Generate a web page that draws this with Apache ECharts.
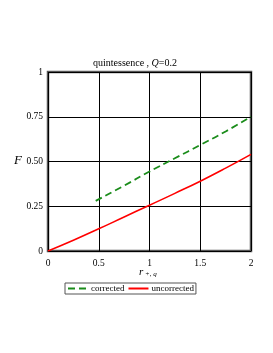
<!DOCTYPE html>
<html><head><meta charset="utf-8">
<script src="https://cdn.jsdelivr.net/npm/echarts@6/dist/echarts.min.js"></script>
<style>html,body{margin:0;padding:0;background:#fff}#c{width:273px;height:353px}</style>
</head><body><div id="c"></div>
<script>
var xTicks = [0, 0.5, 1, 1.5, 2];
var yTicks = [0, 0.25, 0.5, 0.75, 1];
var uncorrectedX = [0, 0.25, 0.5, 0.75, 1, 1.25, 1.5, 1.75, 2];
var uncorrectedF = [0, 0.06, 0.124, 0.19, 0.256, 0.322, 0.39, 0.463, 0.54];
var correctedX = [0.47, 0.75, 1, 1.25, 1.5, 1.75, 2];
var correctedF = [0.28, 0.365, 0.444, 0.518, 0.592, 0.668, 0.75];

function pairs(xs, ys){ return xs.map(function(x,i){return [x, ys[i]];}); }
var serif = '"Liberation Serif", "DejaVu Serif", serif';
var chart = echarts.init(document.getElementById('c'));
chart.setOption({
  animation: false,
  textStyle: {fontFamily: serif},
  title: {
    text: '{n|quintessence , }{i|Q}{n|=0.2}',
    left: 130, top: 53, textAlign: 'center',
    textStyle: {fontWeight: 'normal', rich: {n: {fontFamily: serif, fontSize: 10, fontWeight: 'normal', color: '#000'}, i: {fontFamily: serif, fontSize: 10, fontWeight: 'normal', fontStyle: 'italic', color: '#000'}}}
  },
  grid: {left: 48, right: 22, top: 72, bottom: 102, show: true, borderColor: '#555', borderWidth: 2.5, backgroundColor: 'transparent'},
  xAxis: {
    type: 'value', min: 0, max: 2, interval: 0.5,
    axisLine: {show: false}, axisTick: {show: false},
    splitLine: {show: true, lineStyle: {color: '#000', width: 1}},
    axisLabel: {color: '#000', fontFamily: serif, fontSize: 9.5, margin: 7, formatter: function(v){return String(v);}}
  },
  yAxis: {
    type: 'value', min: 0, max: 1, interval: 0.25,
    axisLine: {show: false}, axisTick: {show: false},
    splitLine: {show: true, lineStyle: {color: '#000', width: 1}},
    axisLabel: {color: '#000', fontFamily: serif, fontSize: 9.5, margin: 5, formatter: function(v){return v===0?'0':v===1?'1':v.toFixed(2);}}
  },
  legend: {
    left: 65, top: 283, itemWidth: 20, itemHeight: 10, itemGap: 3,
    padding: [1, 2, 1, 2], borderColor: '#555', borderWidth: 1,
    itemStyle: {opacity: 0},
    textStyle: {fontFamily: serif, fontSize: 9, color: '#000', padding: [0,0,0,-2]},
    data: ['corrected', 'uncorrected']
  },
  graphic: [
    {type: 'text', left: 14, top: 154, style: {text: 'F', font: 'italic 13px ' + serif, fill: '#000'}},
    {type: 'text', left: 139, top: 267, style: {text: '{r|r}{s| +, q}', rich: {r: {font: 'italic 11px ' + serif, fill: '#000'}, s: {font: 'italic 7px ' + serif, fill: '#000', padding: [4,0,0,0]}}}}
  ],
  series: [
    {name: 'corrected', type: 'line', data: pairs(correctedX, correctedF), symbol: 'none', smooth: true,
     lineStyle: {color: '#1a8c1a', width: 1.8, type: [7, 4]}, itemStyle: {color: '#1a8c1a'}},
    {name: 'uncorrected', type: 'line', data: pairs(uncorrectedX, uncorrectedF), symbol: 'none', smooth: true,
     lineStyle: {color: '#ff0000', width: 1.6}, itemStyle: {color: '#ff0000'}}
  ]
});
</script></body></html>
